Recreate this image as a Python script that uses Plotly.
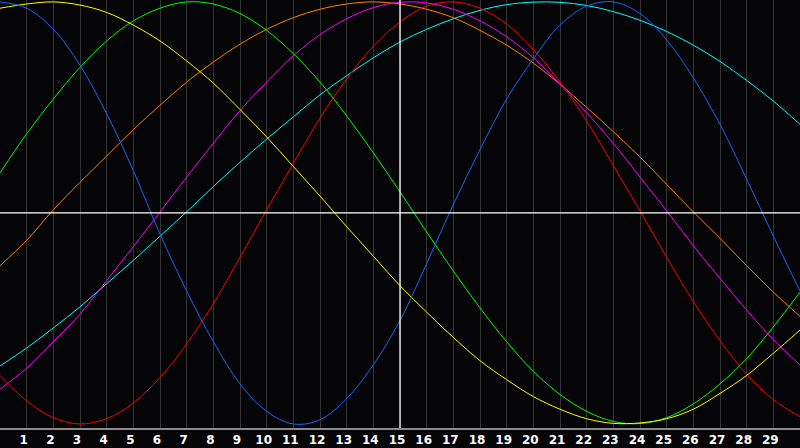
import plotly.graph_objects as go

# x positions (one reading per whole step)
x_vals = list(range(0, 31))
tick_labels = [str(i) for i in range(1, 30)]

# values, one list per curve
blue = [1.00, 0.97, 0.87, 0.70, 0.47, 0.20, -0.10, -0.37, -0.61, -0.81, -0.94, -1.00,
        -0.98, -0.88, -0.72, -0.51, -0.24, 0.04, 0.30, 0.54, 0.73, 0.89, 0.98, 1.00,
        0.945, 0.82, 0.64, 0.42, 0.16, -0.11, -0.37]
yellow = [0.97, 0.99, 1.00, 0.985, 0.95, 0.89, 0.815, 0.72, 0.615, 0.49, 0.36, 0.22,
          0.08, -0.065, -0.205, -0.345, -0.47, -0.59, -0.70, -0.79, -0.87, -0.93, -0.975, -0.997,
          -0.995, -0.975, -0.93, -0.855, -0.77, -0.665, -0.555]
green = [0.19, 0.375, 0.54, 0.69, 0.815, 0.91, 0.97, 1.00, 0.99, 0.945, 0.865, 0.755,
         0.62, 0.46, 0.285, 0.10, -0.09, -0.275, -0.45, -0.61, -0.75, -0.86, -0.94, -0.988,
         -0.998, -0.97, -0.905, -0.81, -0.69, -0.54, -0.375]
orange = [-0.25, -0.13, 0.015, 0.145, 0.27, 0.395, 0.51, 0.62, 0.715, 0.80, 0.87, 0.925,
          0.965, 0.99, 1.00, 0.99, 0.965, 0.925, 0.865, 0.795, 0.71, 0.61, 0.50, 0.385,
          0.265, 0.135, 0.005, -0.12, -0.25, -0.375, -0.49]
magenta = [-0.835, -0.735, -0.61, -0.48, -0.32, -0.16, 0.005, 0.17, 0.33, 0.485, 0.62, 0.745,
           0.845, 0.92, 0.973, 0.998, 0.995, 0.965, 0.91, 0.835, 0.735, 0.61, 0.475, 0.33,
           0.17, 0.01, -0.155, -0.31, -0.46, -0.60, -0.72]
red = [-0.77, -0.89, -0.97, -1.00, -0.975, -0.90, -0.78, -0.62, -0.43, -0.21, 0.015, 0.235,
       0.45, 0.635, 0.79, 0.905, 0.98, 1.00, 0.97, 0.895, 0.775, 0.62, 0.435, 0.225,
       0.01, -0.21, -0.42, -0.605, -0.765, -0.885, -0.965]
cyan = [-0.725, -0.64, -0.545, -0.445, -0.335, -0.225, -0.11, 0.005, 0.125, 0.24, 0.35, 0.455,
        0.56, 0.65, 0.735, 0.81, 0.87, 0.92, 0.96, 0.987, 0.999, 0.998, 0.983, 0.954,
        0.913, 0.86, 0.795, 0.718, 0.628, 0.53, 0.42]

series = [
    (cyan, "#00ffff"),
    (orange, "#ff8000"),
    (magenta, "#ff00ff"),
    (red, "#ff0000"),
    (green, "#00ff00"),
    (yellow, "#ffff00"),
    (blue, "#1469ff"),
]

fig = go.Figure()
for vals, col in series:
    fig.add_trace(go.Scatter(x=x_vals, y=vals, mode="lines",
                             line=dict(color=col, width=1, shape="spline", smoothing=1.0),
                             hoverinfo="skip"))

# white cross through the middle
fig.add_shape(type="line", x0=15, x1=15, y0=0, y1=1, yref="paper",
              line=dict(color="white", width=1.3))
fig.add_shape(type="line", x0=0, x1=1, xref="paper", y0=0, y1=0,
              line=dict(color="white", width=1.3))

fig.update_layout(
    width=800, height=448,
    margin=dict(l=0, r=0, t=0, b=20, pad=0, autoexpand=False),
    paper_bgcolor="#050507",
    plot_bgcolor="#050507",
    showlegend=False,
    xaxis=dict(range=[0, 30], tickvals=list(range(1, 30)), ticktext=tick_labels,
               showgrid=True, gridcolor="#353535", gridwidth=1, automargin=False,
               zeroline=False, showline=True, linecolor="#8a8a8a", linewidth=1.5,
               mirror=True, ticks="", ticklabelshift=-3, ticklabelstandoff=0,
               tickfont=dict(family="DejaVu Sans", size=12, color="white", weight="bold")),
    yaxis=dict(range=[-1.019, 1.009], showgrid=False, zeroline=False, automargin=False,
               showticklabels=False, ticks="", showline=True,
               linecolor="#8a8a8a", linewidth=1.5, mirror=True),
)

# the page's default body margin would push the chart 8px in
fig.write_html("out.html", config={"displayModeBar": False},
               post_script="document.body.style.margin='0';")
